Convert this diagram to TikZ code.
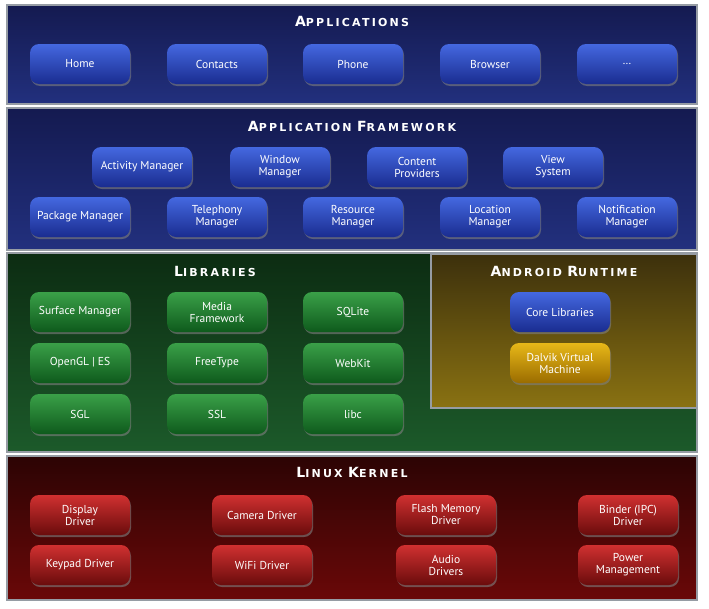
\documentclass[tikz,border=0pt]{standalone}
\usepackage{fontspec}
\setmainfont{PT Sans}
\newfontfamily\titlefont[LetterSpace=20]{DejaVu Sans Bold}
\usepackage{tikz}
\usetikzlibrary{shadows}
\definecolor{panelrim}{RGB}{150,156,164}
\definecolor{apptop}{RGB}{20,26,80}
\definecolor{appbot}{RGB}{34,48,126}
\definecolor{libtop}{RGB}{12,44,18}
\definecolor{libbot}{RGB}{28,90,42}
\definecolor{rttop}{RGB}{60,48,12}
\definecolor{rtbot}{RGB}{138,114,18}
\definecolor{kertop}{RGB}{44,4,4}
\definecolor{kerbot}{RGB}{106,8,8}
\definecolor{bluetop}{RGB}{68,104,224}
\definecolor{bluebot}{RGB}{26,44,144}
\definecolor{greentop}{RGB}{58,160,72}
\definecolor{greenbot}{RGB}{14,90,28}
\definecolor{goldtop}{RGB}{232,184,24}
\definecolor{goldbot}{RGB}{154,108,0}
\definecolor{redtop}{RGB}{208,48,48}
\definecolor{redbot}{RGB}{106,12,12}
\newcommand{\sctitle}[2]{{\fontsize{14}{14}\selectfont #1}{\fontsize{11}{11}\selectfont #2}}
\tikzset{
  panel/.style ={draw=panelrim, line width=1.6pt},
  ttl/.style   ={text=white, font=\titlefont, inner sep=1pt},
  btn/.style   ={rounded corners=9pt, minimum width=100pt, minimum height=40pt,
                 text=white, align=center, inner sep=1pt,
                 font=\fontsize{11.5}{12}\selectfont,
                 drop shadow={opacity=0.6, shadow xshift=1pt, shadow yshift=-2pt}},
  bluebtn/.style ={btn, top color=bluetop, bottom color=bluebot},
  greenbtn/.style={btn, top color=greentop, bottom color=greenbot},
  goldbtn/.style ={btn, top color=goldtop, bottom color=goldbot},
  redbtn/.style  ={btn, top color=redtop, bottom color=redbot},
}

\begin{document}
\begin{tikzpicture}[x=1pt, y=-1pt]
  \useasboundingbox[fill=white] (0,0) rectangle (709,608);
  % layers
  \draw[panel, top color=apptop, bottom color=appbot] (7,5) rectangle (697,104);
  \draw[panel, top color=apptop, bottom color=appbot] (7,108) rectangle (697,250);
  \draw[panel, top color=libtop, bottom color=libbot] (7,253) rectangle (697,452);
  \draw[panel, top color=rttop, bottom color=rtbot] (431,254) rectangle (697,408);
  \draw[panel, top color=kertop, bottom color=kerbot] (7,456) rectangle (697,600);

  % applications
  \node[ttl] (appttl) at (352,21) {\sctitle{A}{PPLICATIONS}};
  \node[bluebtn] (home)     at (80,64)  {Home};
  \node[bluebtn] (contacts) at (217,64) {Contacts};
  \node[bluebtn] (phone)    at (353,64) {Phone};
  \node[bluebtn] (browser)  at (490,64) {Browser};
  \node[bluebtn] (more)     at (627,64) {\dots};

  % application framework
  \node[ttl] (fwttl) at (352,126) {\sctitle{A}{PPLICATION} \sctitle{F}{RAMEWORK}};
  \node[bluebtn] (activity) at (142,167) {Activity Manager};
  \node[bluebtn] (window)   at (280,167) {Window\\Manager};
  \node[bluebtn] (content)  at (417,167) {Content\\Providers};
  \node[bluebtn] (view)     at (553,167) {View\\System};
  \node[bluebtn] (package)  at (80,217)  {Package Manager};
  \node[bluebtn] (phonemgr) at (217,217) {Telephony\\Manager};
  \node[bluebtn] (resource) at (353,217) {Resource\\Manager};
  \node[bluebtn] (location) at (490,217) {Location\\Manager};
  \node[bluebtn] (notify)   at (627,217) {Notification\\Manager};

  % libraries
  \node[ttl] (libttl) at (215,271) {\sctitle{L}{IBRARIES}};
  \node[greenbtn] (surface)  at (80,312)  {Surface Manager};
  \node[greenbtn] (media)    at (217,312) {Media\\Framework};
  \node[greenbtn] (sqlite)   at (353,312) {SQLite};
  \node[greenbtn] (opengl)   at (80,363)  {OpenGL | ES};
  \node[greenbtn] (freetype) at (217,363) {FreeType};
  \node[greenbtn] (webkit)   at (353,363) {WebKit};
  \node[greenbtn] (sgl)      at (80,414)  {SGL};
  \node[greenbtn] (ssl)      at (217,414) {SSL};
  \node[greenbtn] (libc)     at (353,414) {libc};

  % android runtime
  \node[ttl] (rtttl) at (564,271) {\sctitle{A}{NDROID} \sctitle{R}{UNTIME}};
  \node[bluebtn] (corelib) at (560,312) {Core Libraries};
  \node[goldbtn] (dalvik)  at (560,363) {Dalvik Virtual\\Machine};

  % linux kernel
  \node[ttl] (kerttl) at (352,472) {\sctitle{L}{INUX} \sctitle{K}{ERNEL}};
  \node[redbtn] (display) at (80,515)  {Display\\Driver};
  \node[redbtn] (camera)  at (262,515) {Camera Driver};
  \node[redbtn] (flash)   at (446,515) {Flash Memory\\Driver};
  \node[redbtn] (binder)  at (628,515) {Binder (IPC)\\Driver};
  \node[redbtn] (keypad)  at (80,565)  {Keypad Driver};
  \node[redbtn] (wifi)    at (262,565) {WiFi Driver};
  \node[redbtn] (audio)   at (446,565) {Audio\\Drivers};
  \node[redbtn] (power)   at (628,565) {Power\\Management};
\end{tikzpicture}
\end{document}
